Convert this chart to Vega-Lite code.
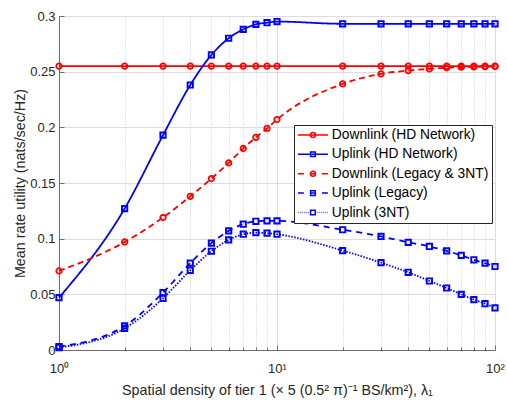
{
  "$schema": "https://vega.github.io/schema/vega-lite/v6.json",
  "width": 436,
  "height": 334,
  "autosize": "none",
  "padding": {"left": 59, "right": 12, "top": 16, "bottom": 52},
  "datasets": {
    "rates": [
      {"s": "Downlink (HD Network)", "x": 1, "y": 0.255},
      {"s": "Downlink (HD Network)", "x": 2, "y": 0.255},
      {"s": "Downlink (HD Network)", "x": 3, "y": 0.255},
      {"s": "Downlink (HD Network)", "x": 4, "y": 0.255},
      {"s": "Downlink (HD Network)", "x": 5, "y": 0.255},
      {"s": "Downlink (HD Network)", "x": 6, "y": 0.255},
      {"s": "Downlink (HD Network)", "x": 7, "y": 0.255},
      {"s": "Downlink (HD Network)", "x": 8, "y": 0.255},
      {"s": "Downlink (HD Network)", "x": 9, "y": 0.255},
      {"s": "Downlink (HD Network)", "x": 10, "y": 0.255},
      {"s": "Downlink (HD Network)", "x": 20, "y": 0.255},
      {"s": "Downlink (HD Network)", "x": 30, "y": 0.255},
      {"s": "Downlink (HD Network)", "x": 40, "y": 0.255},
      {"s": "Downlink (HD Network)", "x": 50, "y": 0.255},
      {"s": "Downlink (HD Network)", "x": 60, "y": 0.255},
      {"s": "Downlink (HD Network)", "x": 70, "y": 0.255},
      {"s": "Downlink (HD Network)", "x": 80, "y": 0.255},
      {"s": "Downlink (HD Network)", "x": 90, "y": 0.255},
      {"s": "Downlink (HD Network)", "x": 100, "y": 0.255},

      {"s": "Uplink (HD Network)", "x": 1, "y": 0.047},
      {"s": "Uplink (HD Network)", "x": 2, "y": 0.127},
      {"s": "Uplink (HD Network)", "x": 3, "y": 0.193},
      {"s": "Uplink (HD Network)", "x": 4, "y": 0.238},
      {"s": "Uplink (HD Network)", "x": 5, "y": 0.265},
      {"s": "Uplink (HD Network)", "x": 6, "y": 0.28},
      {"s": "Uplink (HD Network)", "x": 7, "y": 0.288},
      {"s": "Uplink (HD Network)", "x": 8, "y": 0.2925},
      {"s": "Uplink (HD Network)", "x": 9, "y": 0.294},
      {"s": "Uplink (HD Network)", "x": 10, "y": 0.295},
      {"s": "Uplink (HD Network)", "x": 20, "y": 0.293},
      {"s": "Uplink (HD Network)", "x": 30, "y": 0.293},
      {"s": "Uplink (HD Network)", "x": 40, "y": 0.293},
      {"s": "Uplink (HD Network)", "x": 50, "y": 0.293},
      {"s": "Uplink (HD Network)", "x": 60, "y": 0.293},
      {"s": "Uplink (HD Network)", "x": 70, "y": 0.293},
      {"s": "Uplink (HD Network)", "x": 80, "y": 0.293},
      {"s": "Uplink (HD Network)", "x": 90, "y": 0.293},
      {"s": "Uplink (HD Network)", "x": 100, "y": 0.293},

      {"s": "Downlink (Legacy & 3NT)", "x": 1, "y": 0.071},
      {"s": "Downlink (Legacy & 3NT)", "x": 2, "y": 0.097},
      {"s": "Downlink (Legacy & 3NT)", "x": 3, "y": 0.119},
      {"s": "Downlink (Legacy & 3NT)", "x": 4, "y": 0.138},
      {"s": "Downlink (Legacy & 3NT)", "x": 5, "y": 0.154},
      {"s": "Downlink (Legacy & 3NT)", "x": 6, "y": 0.168},
      {"s": "Downlink (Legacy & 3NT)", "x": 7, "y": 0.181},
      {"s": "Downlink (Legacy & 3NT)", "x": 8, "y": 0.191},
      {"s": "Downlink (Legacy & 3NT)", "x": 9, "y": 0.199},
      {"s": "Downlink (Legacy & 3NT)", "x": 10, "y": 0.207},
      {"s": "Downlink (Legacy & 3NT)", "x": 20, "y": 0.239},
      {"s": "Downlink (Legacy & 3NT)", "x": 30, "y": 0.248},
      {"s": "Downlink (Legacy & 3NT)", "x": 40, "y": 0.251},
      {"s": "Downlink (Legacy & 3NT)", "x": 50, "y": 0.2525},
      {"s": "Downlink (Legacy & 3NT)", "x": 60, "y": 0.2535},
      {"s": "Downlink (Legacy & 3NT)", "x": 70, "y": 0.254},
      {"s": "Downlink (Legacy & 3NT)", "x": 80, "y": 0.2543},
      {"s": "Downlink (Legacy & 3NT)", "x": 90, "y": 0.2545},
      {"s": "Downlink (Legacy & 3NT)", "x": 100, "y": 0.2547},

      {"s": "Uplink (Legacy)", "x": 1, "y": 0.003},
      {"s": "Uplink (Legacy)", "x": 2, "y": 0.0216},
      {"s": "Uplink (Legacy)", "x": 3, "y": 0.0515},
      {"s": "Uplink (Legacy)", "x": 4, "y": 0.078},
      {"s": "Uplink (Legacy)", "x": 5, "y": 0.096},
      {"s": "Uplink (Legacy)", "x": 6, "y": 0.107},
      {"s": "Uplink (Legacy)", "x": 7, "y": 0.113},
      {"s": "Uplink (Legacy)", "x": 8, "y": 0.1156},
      {"s": "Uplink (Legacy)", "x": 9, "y": 0.116},
      {"s": "Uplink (Legacy)", "x": 10, "y": 0.116},
      {"s": "Uplink (Legacy)", "x": 20, "y": 0.108},
      {"s": "Uplink (Legacy)", "x": 30, "y": 0.102},
      {"s": "Uplink (Legacy)", "x": 40, "y": 0.0967},
      {"s": "Uplink (Legacy)", "x": 50, "y": 0.093},
      {"s": "Uplink (Legacy)", "x": 60, "y": 0.089},
      {"s": "Uplink (Legacy)", "x": 70, "y": 0.085},
      {"s": "Uplink (Legacy)", "x": 80, "y": 0.081},
      {"s": "Uplink (Legacy)", "x": 90, "y": 0.078},
      {"s": "Uplink (Legacy)", "x": 100, "y": 0.075},

      {"s": "Uplink (3NT)", "x": 1, "y": 0.0022},
      {"s": "Uplink (3NT)", "x": 2, "y": 0.0194},
      {"s": "Uplink (3NT)", "x": 3, "y": 0.0464},
      {"s": "Uplink (3NT)", "x": 4, "y": 0.0716},
      {"s": "Uplink (3NT)", "x": 5, "y": 0.0887},
      {"s": "Uplink (3NT)", "x": 6, "y": 0.0989},
      {"s": "Uplink (3NT)", "x": 7, "y": 0.104},
      {"s": "Uplink (3NT)", "x": 8, "y": 0.1054},
      {"s": "Uplink (3NT)", "x": 9, "y": 0.105},
      {"s": "Uplink (3NT)", "x": 10, "y": 0.104},
      {"s": "Uplink (3NT)", "x": 20, "y": 0.0893},
      {"s": "Uplink (3NT)", "x": 30, "y": 0.0785},
      {"s": "Uplink (3NT)", "x": 40, "y": 0.0698},
      {"s": "Uplink (3NT)", "x": 50, "y": 0.062},
      {"s": "Uplink (3NT)", "x": 60, "y": 0.0557},
      {"s": "Uplink (3NT)", "x": 70, "y": 0.05},
      {"s": "Uplink (3NT)", "x": 80, "y": 0.0452},
      {"s": "Uplink (3NT)", "x": 90, "y": 0.0416},
      {"s": "Uplink (3NT)", "x": 100, "y": 0.0378}
    ]
  },
  "data": {"name": "rates"},
  "encoding": {
    "x": {
      "field": "x",
      "type": "quantitative",
      "scale": {"type": "log", "domain": [1, 100], "nice": false},
      "axis": null
    },
    "y": {
      "field": "y",
      "type": "quantitative",
      "scale": {"domain": [0, 0.3], "nice": false, "zero": false},
      "axis": {
        "orient": "left",
        "values": [0, 0.05, 0.1, 0.15, 0.2, 0.25, 0.3],
        "format": "~g",
        "grid": true,
        "gridColor": "#dcdcdc",
        "ticks": true,
        "tickSize": -5,
        "labelPadding": 9,
        "title": "Mean rate utility (nats/sec/Hz)",
        "titlePadding": 2
      }
    },
    "color": {
      "field": "s",
      "type": "nominal",
      "scale": {
        "domain": ["Downlink (HD Network)", "Uplink (HD Network)", "Downlink (Legacy & 3NT)", "Uplink (Legacy)", "Uplink (3NT)"],
        "range": ["#ff0000", "#0000ff", "#ff0000", "#0000ff", "#0000ff"]
      },
      "legend": {"title": null, "orient": "none", "legendX": 235, "legendY": 109}
    }
  },
  "layer": [
    {
      "mark": {"type": "line", "interpolate": "monotone", "strokeWidth": 1.8},
      "encoding": {
        "x": {
          "field": "x",
          "type": "quantitative",
          "scale": {"type": "log", "domain": [1, 100], "nice": false},
          "axis": {
            "orient": "bottom",
            "values": [1, 10, 100],
            "labelExpr": "datum.value == 1 ? '10⁰' : datum.value == 10 ? '10¹' : '10²'",
            "labelFlush": false,
            "grid": true,
            "gridColor": "#dcdcdc",
            "ticks": true,
            "tickSize": -5,
            "labelPadding": 17,
            "title": "Spatial density of tier 1 (× 5 (0.5² π)⁻¹ BS/km²), λ₁",
            "titlePadding": 8
          }
        },
        "strokeDash": {
          "field": "s",
          "type": "nominal",
          "scale": {
            "domain": ["Uplink (3NT)", "Uplink (Legacy)", "Downlink (Legacy & 3NT)", "Uplink (HD Network)", "Downlink (HD Network)"],
            "range": [[1.5, 1.5], [6, 5], [6, 4], [1, 0], [1, 0]]
          },
          "legend": null
        }
      }
    },
    {
      "transform": [{"filter": "indexof(datum.s, 'Downlink') == 0"}],
      "mark": {"type": "point", "shape": "circle", "filled": false, "size": 30, "strokeWidth": 1.8, "opacity": 1},
      "encoding": {
        "x": {
          "field": "x",
          "type": "quantitative",
          "scale": {"type": "log", "domain": [1, 100], "nice": false},
          "axis": {
            "orient": "bottom",
            "values": [2, 3, 4, 5, 6, 7, 8, 9, 20, 30, 40, 50, 60, 70, 80, 90],
            "labels": false,
            "domain": false,
            "grid": true,
            "gridColor": "#c8c8c8",
            "gridDash": [1, 2],
            "ticks": true,
            "tickSize": -3,
            "title": null
          }
        }
      }
    },
    {
      "transform": [{"filter": "indexof(datum.s, 'Uplink') == 0"}],
      "mark": {"type": "point", "shape": "square", "filled": false, "size": 28, "strokeWidth": 1.9, "opacity": 1}
    },
    {
      "description": "Legend keys only: each key is a line sample with its marker; the filter keeps this layer from drawing in the plot.",
      "transform": [{"filter": "false"}],
      "mark": {"type": "point", "filled": false, "strokeWidth": 1.5},
      "encoding": {
        "shape": {
          "field": "s",
          "type": "nominal",
          "scale": {
            "domain": ["Downlink (HD Network)", "Uplink (HD Network)", "Downlink (Legacy & 3NT)", "Uplink (Legacy)", "Uplink (3NT)"],
            "range": [
              "M-1.2,0H4.8M1.3,0A0.5,0.5,0,1,0,2.3,0A0.5,0.5,0,1,0,1.3,0Z",
              "M-1.2,0H4.8M1.34,-0.46H2.26V0.46H1.34Z",
              "M-1.2,0H0M1.2,0H2.4M3.6,0H4.8M1.3,0A0.5,0.5,0,1,0,2.3,0A0.5,0.5,0,1,0,1.3,0Z",
              "M-1.2,0H0M1.2,0H2.4M3.6,0H4.8M1.34,-0.46H2.26V0.46H1.34Z",
              "M-1.2,0h0.12M-0.8,0h0.12M-0.4,0h0.12M0,0h0.12M0.4,0h0.12M0.8,0h0.12M2.6,0h0.12M3,0h0.12M3.4,0h0.12M3.8,0h0.12M4.2,0h0.12M4.6,0h0.12M1.34,-0.46H2.26V0.46H1.34Z"
            ]
          },
          "legend": {"title": null, "orient": "none", "legendX": 235, "legendY": 109}
        }
      }
    }
  ],
  "resolve": {"axis": {"x": "independent"}},
  "config": {
    "font": "Liberation Sans",
    "view": {"stroke": "#6e6e6e", "strokeWidth": 1},
    "axis": {
      "labelFont": "Liberation Sans",
      "labelFontSize": 13,
      "labelColor": "#262626",
      "titleFont": "Liberation Sans",
      "titleFontSize": 14.3,
      "titleFontWeight": "normal",
      "titleColor": "#262626",
      "domainColor": "#6e6e6e",
      "tickColor": "#6e6e6e",
      "gridOpacity": 1
    },
    "legend": {
      "fillColor": "#ffffff",
      "strokeColor": "#262626",
      "padding": 3,
      "symbolSize": 100,
      "symbolStrokeWidth": 1.5,
      "symbolFillColor": "transparent",
      "rowPadding": 4.4,
      "labelOffset": 21,
      "labelFont": "Liberation Sans",
      "labelFontSize": 13.8,
      "labelColor": "#000000",
      "labelLimit": 300
    }
  }
}
